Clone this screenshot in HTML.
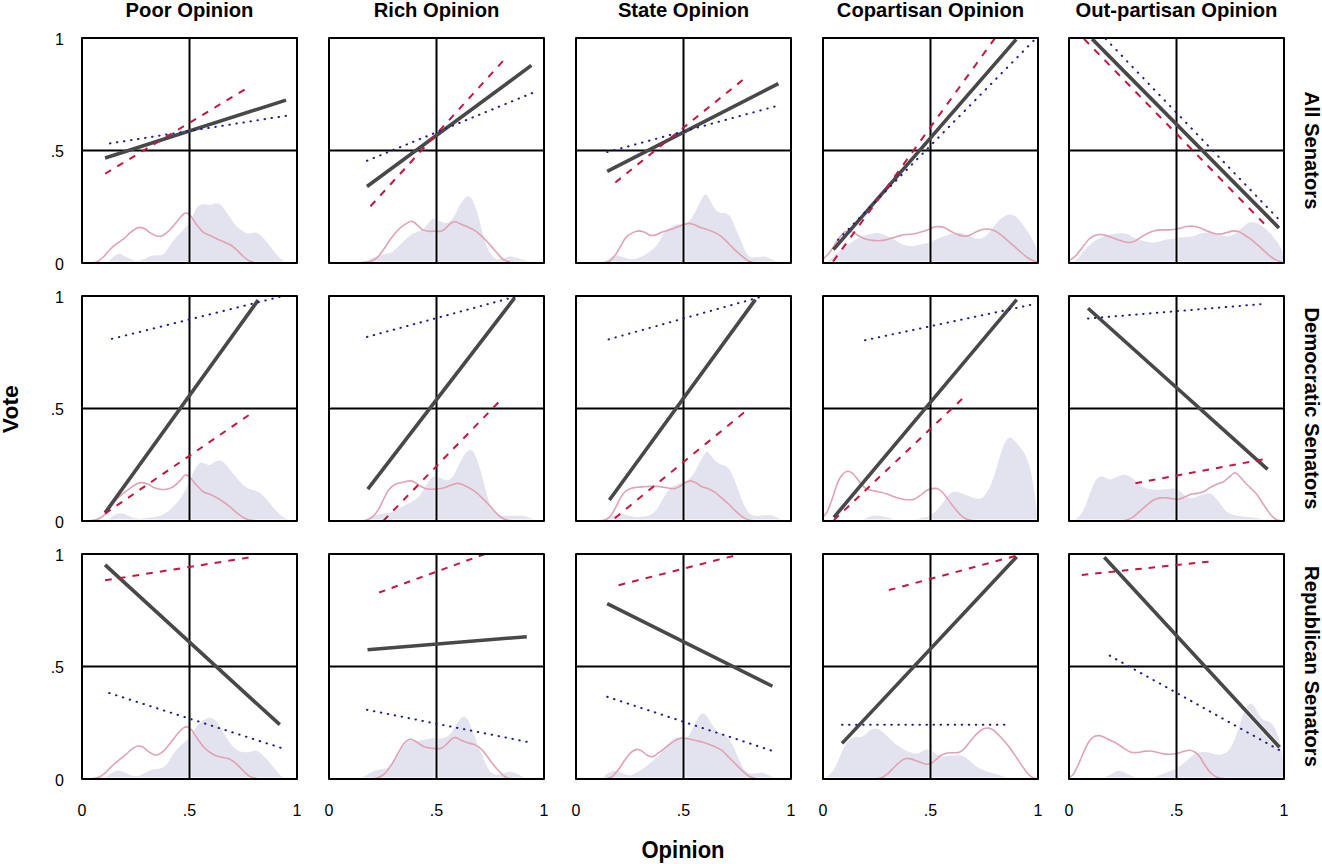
<!DOCTYPE html><html><head><meta charset="utf-8"><style>html,body{margin:0;padding:0;background:#fff;}svg{display:block;}text{font-family:"Liberation Sans",sans-serif;fill:#000;}.t{font-size:20.2px;font-weight:bold;}.a{font-size:22px;font-weight:bold;}.n{font-size:16px;}</style></head><body>
<svg width="1322" height="864" viewBox="0 0 1322 864">
<rect width="1322" height="864" fill="#fff"/>
<defs><clipPath id="c00"><rect x="82" y="38" width="215" height="225"/></clipPath><clipPath id="c01"><rect x="329" y="38" width="215" height="225"/></clipPath><clipPath id="c02"><rect x="576" y="38" width="215" height="225"/></clipPath><clipPath id="c03"><rect x="823" y="38" width="215" height="225"/></clipPath><clipPath id="c04"><rect x="1069" y="38" width="215" height="225"/></clipPath><clipPath id="c10"><rect x="82" y="296" width="215" height="225"/></clipPath><clipPath id="c11"><rect x="329" y="296" width="215" height="225"/></clipPath><clipPath id="c12"><rect x="576" y="296" width="215" height="225"/></clipPath><clipPath id="c13"><rect x="823" y="296" width="215" height="225"/></clipPath><clipPath id="c14"><rect x="1069" y="296" width="215" height="225"/></clipPath><clipPath id="c20"><rect x="82" y="554" width="215" height="225"/></clipPath><clipPath id="c21"><rect x="329" y="554" width="215" height="225"/></clipPath><clipPath id="c22"><rect x="576" y="554" width="215" height="225"/></clipPath><clipPath id="c23"><rect x="823" y="554" width="215" height="225"/></clipPath><clipPath id="c24"><rect x="1069" y="554" width="215" height="225"/></clipPath></defs>
<g clip-path="url(#c00)"><path d="M107.46 263C107.46 262.84 106.49 263.02 107.46 262.02C108.43 261.03 111.34 258.42 113.28 257.03C115.22 255.64 117.17 253.84 119.11 253.7C121.05 253.56 122.85 255.23 124.93 256.2C127.01 257.17 129.37 258.75 131.59 259.53C133.81 260.3 136.03 261 138.25 260.86C140.46 260.72 142.68 259.53 144.9 258.7C147.12 257.86 149.34 256.42 151.56 255.87C153.78 255.31 156.27 255.64 158.21 255.37C160.16 255.09 161.54 255.45 163.21 254.2C164.87 252.95 166.26 250.46 168.2 247.88C170.14 245.3 172.64 241.36 174.86 238.73C177.08 236.09 179.57 234.15 181.51 232.07C183.45 229.99 184.98 228.05 186.51 226.25C188.03 224.44 189.28 223.75 190.67 221.25C192.05 218.76 193.44 213.9 194.83 211.27C196.21 208.63 197.46 206.61 198.99 205.44C200.51 204.28 202.18 204.36 203.98 204.28C205.78 204.2 207.72 205.11 209.8 204.94C211.88 204.78 214.52 203.2 216.46 203.28C218.4 203.36 219.79 203.97 221.45 205.44C223.12 206.91 224.78 209.74 226.44 212.1C228.11 214.46 229.77 217.23 231.44 219.59C233.1 221.95 234.49 224.3 236.43 226.25C238.37 228.19 241.14 229.99 243.09 231.24C245.03 232.49 246.14 233.51 248.08 233.73C250.02 233.96 252.79 232.43 254.74 232.57C256.68 232.71 258.06 233.4 259.73 234.57C261.39 235.73 262.78 237.34 264.72 239.56C266.66 241.78 269.16 245.11 271.38 247.88C273.6 250.65 275.81 253.84 278.03 256.2C280.25 258.56 283.58 260.89 284.69 262.02C285.8 263.16 284.69 262.84 284.69 263Z" fill="#e3e3ef"/><line x1="105.09" y1="158.05" x2="286.02" y2="100.09" stroke="#fff" stroke-opacity="0.6" stroke-width="5.6"/><path d="M189.5 38V263M82 150.5H297" stroke="#fff" stroke-opacity="0.6" stroke-width="4" fill="none"/><path d="M82 263H297" stroke="#fff" stroke-opacity="0.6" stroke-width="4" fill="none"/><path d="M89.98 262.86C91.09 262.72 94.42 262.99 96.64 262.02C98.86 261.05 101.08 259.11 103.3 257.03C105.52 254.95 107.74 251.76 109.95 249.54C112.17 247.32 114.39 245.44 116.61 243.72C118.83 242 121.05 241.03 123.27 239.23C125.49 237.42 127.71 234.73 129.92 232.9C132.14 231.07 134.92 229.16 136.58 228.24C138.25 227.33 138.52 227.33 139.91 227.41C141.3 227.49 143.24 227.88 144.9 228.74C146.57 229.6 147.95 231.38 149.89 232.57C151.84 233.76 154.61 235.34 156.55 235.9C158.49 236.45 159.88 236.4 161.54 235.9C163.21 235.4 164.59 234.51 166.54 232.9C168.48 231.29 170.97 228.74 173.19 226.25C175.41 223.75 177.91 220.09 179.85 217.92C181.79 215.76 183.45 213.96 184.84 213.26C186.23 212.57 187.06 213.13 188.17 213.76C189.28 214.4 190.11 215.29 191.5 217.09C192.88 218.9 194.55 222.08 196.49 224.58C198.43 227.08 200.93 230.27 203.15 232.07C205.37 233.87 207.58 234.29 209.8 235.4C212.02 236.51 214.24 237.7 216.46 238.73C218.68 239.75 220.9 240.58 223.12 241.56C225.34 242.53 227.55 243.22 229.77 244.55C231.99 245.88 234.21 247.6 236.43 249.54C238.65 251.48 240.87 254.26 243.09 256.2C245.31 258.14 247.52 260.08 249.74 261.19C251.96 262.3 254.46 262.58 256.4 262.86C258.34 263.13 260.56 262.86 261.39 262.86" fill="none" stroke="#e0a3b3" stroke-width="1.6" stroke-linejoin="round"/><path d="M189.5 38V263M82 150.5H297" stroke="#000" stroke-width="2" fill="none"/><line x1="105.09" y1="158.05" x2="286.02" y2="100.09" stroke="#484848" stroke-width="3.6"/><line x1="105.09" y1="173.76" x2="244.58" y2="89.53" stroke="#c4163f" stroke-width="2.0" stroke-dasharray="6.88 7.31"/><line x1="109.96" y1="143.43" x2="286.02" y2="115.8" stroke="#1c1c8a" stroke-width="2.0" stroke-dasharray="0.5 6.61" stroke-linecap="round"/></g><rect x="82" y="38" width="215" height="225" fill="none" stroke="#000" stroke-width="2" stroke-linejoin="round"/>
<g clip-path="url(#c01)"><path d="M363.61 263C363.61 262.92 362.5 263.24 363.61 262.52C364.72 261.81 368.05 259.75 370.27 258.7C372.49 257.64 374.71 256.89 376.92 256.2C379.14 255.51 381.36 255.09 383.58 254.54C385.8 253.98 388.02 253.98 390.24 252.87C392.46 251.76 394.68 249.82 396.89 247.88C399.11 245.94 401.33 243.3 403.55 241.22C405.77 239.14 407.99 236.92 410.21 235.4C412.43 233.87 414.64 233.18 416.86 232.07C419.08 230.96 421.58 230.27 423.52 228.74C425.46 227.22 426.85 224.58 428.51 222.92C430.18 221.25 431.84 219.17 433.51 218.76C435.17 218.34 436.83 219.78 438.5 220.42C440.16 221.06 442.1 222.17 443.49 222.58C444.88 223 445.57 223.28 446.82 222.92C448.07 222.56 449.59 221.81 450.98 220.42C452.37 219.03 453.61 217.23 455.14 214.6C456.66 211.96 458.47 207.38 460.13 204.61C461.8 201.84 463.74 199.34 465.12 197.95C466.51 196.57 467.34 196.15 468.45 196.29C469.56 196.43 470.67 197.12 471.78 198.79C472.89 200.45 474 203.36 475.11 206.28C476.22 209.19 477.33 212.38 478.44 216.26C479.55 220.14 480.66 225.41 481.77 229.57C482.87 233.73 483.85 237.62 485.09 241.22C486.34 244.83 487.87 248.57 489.25 251.21C490.64 253.84 491.89 255.64 493.41 257.03C494.94 258.42 496.47 259.39 498.41 259.53C500.35 259.67 503.12 258.42 505.06 257.86C507.01 257.31 508.11 256.2 510.06 256.2C512 256.2 514.49 257.25 516.71 257.86C518.93 258.47 520.87 259.08 523.37 259.86C525.87 260.64 530.3 262 531.69 262.52C533.08 263.05 531.69 262.92 531.69 263Z" fill="#e3e3ef"/><line x1="366.98" y1="186.49" x2="531.39" y2="65.42" stroke="#fff" stroke-opacity="0.6" stroke-width="5.6"/><path d="M436.5 38V263M329 150.5H544" stroke="#fff" stroke-opacity="0.6" stroke-width="4" fill="none"/><path d="M329 263H544" stroke="#fff" stroke-opacity="0.6" stroke-width="4" fill="none"/><path d="M361.95 262.52C363.33 262.36 367.77 262.3 370.27 261.52C372.76 260.75 374.71 259.86 376.92 257.86C379.14 255.87 381.36 252.59 383.58 249.54C385.8 246.49 388.02 242.61 390.24 239.56C392.46 236.51 394.68 233.6 396.89 231.24C399.11 228.88 401.33 227.02 403.55 225.41C405.77 223.8 408.54 222.14 410.21 221.59C411.87 221.03 412.29 221.45 413.54 222.08C414.78 222.72 416.17 224.11 417.7 225.41C419.22 226.72 420.89 228.94 422.69 229.91C424.49 230.88 426.43 231.02 428.51 231.24C430.59 231.46 433.09 231.24 435.17 231.24C437.25 231.24 439.33 231.65 440.99 231.24C442.66 230.82 443.63 229.99 445.15 228.74C446.68 227.49 448.48 224.91 450.15 223.75C451.81 222.58 453.48 221.75 455.14 221.75C456.8 221.75 458.19 222.94 460.13 223.75C462.07 224.55 464.57 225.61 466.79 226.58C469.01 227.55 471.23 228.24 473.44 229.57C475.66 230.9 477.88 232.62 480.1 234.57C482.32 236.51 484.54 238.86 486.76 241.22C488.98 243.58 491.47 246.49 493.41 248.71C495.36 250.93 496.74 252.73 498.41 254.54C500.07 256.34 501.46 258.25 503.4 259.53C505.34 260.8 508.11 261.64 510.06 262.19C512 262.75 514.22 262.75 515.05 262.86" fill="none" stroke="#e0a3b3" stroke-width="1.6" stroke-linejoin="round"/><path d="M436.5 38V263M329 150.5H544" stroke="#000" stroke-width="2" fill="none"/><line x1="366.98" y1="186.49" x2="531.39" y2="65.42" stroke="#484848" stroke-width="3.6"/><line x1="370.5" y1="206.26" x2="502.95" y2="61.09" stroke="#c4163f" stroke-width="2.0" stroke-dasharray="7.07 7.5"/><line x1="366.98" y1="160.76" x2="532.2" y2="93.05" stroke="#1c1c8a" stroke-width="2.0" stroke-dasharray="0.5 6.62" stroke-linecap="round"/></g><rect x="329" y="38" width="215" height="225" fill="none" stroke="#000" stroke-width="2" stroke-linejoin="round"/>
<g clip-path="url(#c02)"><path d="M603.95 263C603.95 262.84 603.12 262.74 603.95 262.02C604.79 261.31 607.01 259.81 608.95 258.7C610.89 257.59 613.38 255.64 615.6 255.37C617.82 255.09 620.04 256.42 622.26 257.03C624.48 257.64 626.7 258.75 628.92 259.03C631.14 259.31 633.35 259.17 635.57 258.7C637.79 258.22 639.73 257.45 642.23 256.2C644.73 254.95 648.05 253.15 650.55 251.21C653.05 249.27 655.27 247.05 657.21 244.55C659.15 242.05 660.54 238.73 662.2 236.23C663.86 233.73 665.25 231.38 667.19 229.57C669.13 227.77 671.91 226.3 673.85 225.41C675.79 224.53 677.18 224.39 678.84 224.25C680.51 224.11 682.17 225.08 683.83 224.58C685.5 224.08 687.16 222.92 688.83 221.25C690.49 219.59 692.15 217.37 693.82 214.6C695.48 211.82 697.15 207.8 698.81 204.61C700.48 201.42 702.42 196.98 703.8 195.46C705.19 193.93 706.02 194.49 707.13 195.46C708.24 196.43 709.07 198.93 710.46 201.28C711.85 203.64 713.79 207.66 715.45 209.6C717.12 211.55 718.78 212.38 720.44 212.93C722.11 213.49 723.77 212.24 725.44 212.93C727.1 213.63 728.77 214.6 730.43 217.09C732.09 219.59 733.76 224.16 735.42 227.91C737.09 231.65 738.75 235.68 740.41 239.56C742.08 243.44 743.74 248.3 745.41 251.21C747.07 254.12 748.46 256.01 750.4 257.03C752.34 258.06 754.84 257.45 757.06 257.36C759.27 257.28 761.49 256.31 763.71 256.53C765.93 256.75 768.15 257.86 770.37 258.7C772.59 259.53 775.92 260.81 777.03 261.52C778.14 262.24 777.03 262.75 777.03 263Z" fill="#e3e3ef"/><line x1="607.21" y1="171.32" x2="778.39" y2="83.57" stroke="#fff" stroke-opacity="0.6" stroke-width="5.6"/><path d="M683.5 38V263M576 150.5H791" stroke="#fff" stroke-opacity="0.6" stroke-width="4" fill="none"/><path d="M576 263H791" stroke="#fff" stroke-opacity="0.6" stroke-width="4" fill="none"/><path d="M601.46 262.86C602.71 262.63 606.59 262.91 608.95 261.52C611.3 260.14 613.66 257.09 615.6 254.54C617.55 251.98 618.93 248.99 620.6 246.21C622.26 243.44 623.65 240.11 625.59 237.89C627.53 235.68 630.03 234.07 632.25 232.9C634.46 231.74 636.96 231.04 638.9 230.9C640.84 230.77 641.95 231.32 643.89 232.07C645.84 232.82 648.61 234.93 650.55 235.4C652.49 235.87 653.6 235.45 655.54 234.9C657.48 234.34 659.7 232.96 662.2 232.07C664.7 231.18 668.02 230.41 670.52 229.57C673.02 228.74 674.96 227.91 677.18 227.08C679.4 226.25 681.89 225.19 683.83 224.58C685.78 223.97 687.16 223.42 688.83 223.42C690.49 223.42 691.88 223.89 693.82 224.58C695.76 225.27 698.26 226.74 700.48 227.58C702.69 228.41 704.64 228.69 707.13 229.57C709.63 230.46 712.96 231.65 715.45 232.9C717.95 234.15 719.89 235.26 722.11 237.06C724.33 238.86 726.55 241.5 728.77 243.72C730.98 245.94 733.2 248.3 735.42 250.38C737.64 252.46 739.86 254.4 742.08 256.2C744.3 258 746.52 260.08 748.74 261.19C750.95 262.3 753.45 262.58 755.39 262.86C757.33 263.13 759.55 262.86 760.38 262.86" fill="none" stroke="#e0a3b3" stroke-width="1.6" stroke-linejoin="round"/><path d="M683.5 38V263M576 150.5H791" stroke="#000" stroke-width="2" fill="none"/><line x1="607.21" y1="171.32" x2="778.39" y2="83.57" stroke="#484848" stroke-width="3.6"/><line x1="615.34" y1="182.43" x2="742.64" y2="80.05" stroke="#c4163f" stroke-width="2.0" stroke-dasharray="6.9 7.32"/><line x1="607.21" y1="152.09" x2="774.6" y2="106.59" stroke="#1c1c8a" stroke-width="2.0" stroke-dasharray="0.5 6.71" stroke-linecap="round"/></g><rect x="576" y="38" width="215" height="225" fill="none" stroke="#000" stroke-width="2" stroke-linejoin="round"/>
<g clip-path="url(#c03)"><path d="M825.99 263C825.99 262.84 825.16 262.74 825.99 262.02C826.82 261.31 829.04 260.22 830.98 258.7C832.93 257.17 835.15 254.95 837.64 252.87C840.14 250.79 843.19 248.3 845.96 246.21C848.74 244.13 851.51 242 854.28 240.39C857.06 238.78 859.83 237.67 862.6 236.56C865.38 235.45 868.71 234.34 870.92 233.73C873.14 233.12 874.25 232.9 875.92 232.9C877.58 232.9 878.97 233.18 880.91 233.73C882.85 234.29 885.35 235.26 887.57 236.23C889.78 237.2 892 238.31 894.22 239.56C896.44 240.81 898.66 242.66 900.88 243.72C903.1 244.77 905.32 245.52 907.54 245.88C909.75 246.24 911.97 246.1 914.19 245.88C916.41 245.66 918.63 245.05 920.85 244.55C923.07 244.05 925.56 243.44 927.51 242.89C929.45 242.33 930.83 241.92 932.5 241.22C934.16 240.53 935.55 239.56 937.49 238.73C939.43 237.89 941.93 237.06 944.15 236.23C946.37 235.4 948.58 234.34 950.8 233.73C953.02 233.12 955.24 232.57 957.46 232.57C959.68 232.57 961.9 233.12 964.12 233.73C966.34 234.34 968.55 235.4 970.77 236.23C972.99 237.06 975.49 238.45 977.43 238.73C979.37 239 980.76 238.59 982.42 237.89C984.09 237.2 985.47 236.51 987.41 234.57C989.36 232.62 991.85 228.88 994.07 226.25C996.29 223.61 998.51 220.64 1000.73 218.76C1002.95 216.87 1005.44 215.57 1007.38 214.93C1009.33 214.29 1010.71 214.43 1012.38 214.93C1014.04 215.43 1015.43 216.04 1017.37 217.92C1019.31 219.81 1021.81 223.19 1024.03 226.25C1026.24 229.3 1028.74 232.9 1030.68 236.23C1032.62 239.56 1034.57 243.16 1035.67 246.21C1036.78 249.27 1037.06 251.9 1037.34 254.54C1037.62 257.17 1037.34 260.61 1037.34 262.02C1037.34 263.43 1037.34 262.84 1037.34 263Z" fill="#e3e3ef"/><line x1="833.36" y1="249.6" x2="1016.18" y2="39.42" stroke="#fff" stroke-opacity="0.6" stroke-width="5.6"/><path d="M930.5 38V263M823 150.5H1038" stroke="#fff" stroke-opacity="0.6" stroke-width="4" fill="none"/><path d="M823 263H1038" stroke="#fff" stroke-opacity="0.6" stroke-width="4" fill="none"/><path d="M823.5 258.7C824.47 257.73 827.52 255.09 829.32 252.87C831.12 250.65 832.65 247.88 834.31 245.38C835.98 242.89 837.64 240.11 839.31 237.89C840.97 235.68 842.63 233.18 844.3 232.07C845.96 230.96 847.63 231.1 849.29 231.24C850.95 231.38 852.62 232.07 854.28 232.9C855.95 233.73 857.33 235.18 859.28 236.23C861.22 237.28 863.71 238.53 865.93 239.23C868.15 239.92 870.37 240.14 872.59 240.39C874.81 240.64 877.03 240.81 879.25 240.72C881.46 240.64 883.68 240.36 885.9 239.89C888.12 239.42 890.34 238.56 892.56 237.89C894.78 237.23 897 236.45 899.21 235.9C901.43 235.34 903.38 234.93 905.87 234.57C908.37 234.21 911.7 234.15 914.19 233.73C916.69 233.32 918.63 232.71 920.85 232.07C923.07 231.43 925.29 230.74 927.51 229.91C929.72 229.07 932.22 227.63 934.16 227.08C936.1 226.52 937.49 226.49 939.15 226.58C940.82 226.66 942.21 226.8 944.15 227.58C946.09 228.35 948.58 230.07 950.8 231.24C953.02 232.4 955.24 233.73 957.46 234.57C959.68 235.4 962.17 236.09 964.12 236.23C966.06 236.37 967.17 236.09 969.11 235.4C971.05 234.7 973.55 233.04 975.77 232.07C977.98 231.1 980.48 230.07 982.42 229.57C984.36 229.07 985.47 228.94 987.41 229.07C989.36 229.21 991.85 229.49 994.07 230.41C996.29 231.32 998.51 232.9 1000.73 234.57C1002.95 236.23 1005.17 238.45 1007.38 240.39C1009.6 242.33 1011.82 244.27 1014.04 246.21C1016.26 248.16 1018.48 250.15 1020.7 252.04C1022.92 253.93 1025.14 256.01 1027.35 257.53C1029.57 259.06 1032.35 260.36 1034.01 261.19C1035.67 262.02 1036.78 262.3 1037.34 262.52" fill="none" stroke="#e0a3b3" stroke-width="1.6" stroke-linejoin="round"/><path d="M930.5 38V263M823 150.5H1038" stroke="#000" stroke-width="2" fill="none"/><line x1="833.36" y1="249.6" x2="1016.18" y2="39.42" stroke="#484848" stroke-width="3.6"/><line x1="833.08" y1="261.52" x2="995.06" y2="38.06" stroke="#c4163f" stroke-width="2.0" stroke-dasharray="7.24 7.69"/><line x1="837.96" y1="239.85" x2="1033.52" y2="40.77" stroke="#1c1c8a" stroke-width="2.0" stroke-dasharray="0.5 7.03" stroke-linecap="round"/></g><rect x="823" y="38" width="215" height="225" fill="none" stroke="#000" stroke-width="2" stroke-linejoin="round"/>
<g clip-path="url(#c04)"><path d="M1073.66 263C1073.66 262.84 1072.82 262.88 1073.66 262.02C1074.49 261.17 1076.98 259.67 1078.65 257.86C1080.31 256.06 1081.7 253.43 1083.64 251.21C1085.58 248.99 1088.08 246.49 1090.3 244.55C1092.52 242.61 1094.74 240.89 1096.95 239.56C1099.17 238.23 1101.39 237.39 1103.61 236.56C1105.83 235.73 1108.05 235.09 1110.27 234.57C1112.49 234.04 1114.71 233.62 1116.92 233.4C1119.14 233.18 1121.64 233.04 1123.58 233.23C1125.52 233.43 1126.91 233.84 1128.57 234.57C1130.24 235.29 1131.62 236.65 1133.57 237.56C1135.51 238.48 1138 239.36 1140.22 240.06C1142.44 240.75 1144.66 241.33 1146.88 241.72C1149.1 242.11 1151.32 242.47 1153.54 242.39C1155.75 242.3 1157.97 241.69 1160.19 241.22C1162.41 240.75 1164.63 240.03 1166.85 239.56C1169.07 239.09 1171.29 238.73 1173.51 238.39C1175.72 238.06 1177.94 237.78 1180.16 237.56C1182.38 237.34 1184.6 237.28 1186.82 237.06C1189.04 236.84 1191.26 236.78 1193.48 236.23C1195.69 235.68 1197.91 234.34 1200.13 233.73C1202.35 233.12 1204.57 232.62 1206.79 232.57C1209.01 232.51 1211.23 232.98 1213.44 233.4C1215.66 233.82 1217.88 234.59 1220.1 235.07C1222.32 235.54 1224.54 236.31 1226.76 236.23C1228.98 236.15 1231.2 235.68 1233.41 234.57C1235.63 233.46 1237.85 231.38 1240.07 229.57C1242.29 227.77 1244.79 225 1246.73 223.75C1248.67 222.5 1250.06 222.22 1251.72 222.08C1253.38 221.95 1254.77 222.08 1256.71 222.92C1258.65 223.75 1261.15 225.41 1263.37 227.08C1265.59 228.74 1267.81 230.54 1270.03 232.9C1272.24 235.26 1274.74 238.45 1276.68 241.22C1278.62 244 1280.57 247.05 1281.67 249.54C1282.78 252.04 1283.06 254.12 1283.34 256.2C1283.62 258.28 1283.34 260.89 1283.34 262.02C1283.34 263.16 1283.34 262.84 1283.34 263Z" fill="#e3e3ef"/><line x1="1092.09" y1="38.88" x2="1278.98" y2="227.93" stroke="#fff" stroke-opacity="0.6" stroke-width="5.6"/><path d="M1176.5 38V263M1069 150.5H1284" stroke="#fff" stroke-opacity="0.6" stroke-width="4" fill="none"/><path d="M1069 263H1284" stroke="#fff" stroke-opacity="0.6" stroke-width="4" fill="none"/><path d="M1069.5 260.36C1070.47 259.67 1073.24 258.28 1075.32 256.2C1077.4 254.12 1079.76 250.65 1081.98 247.88C1084.2 245.11 1086.69 241.56 1088.63 239.56C1090.58 237.56 1091.82 236.73 1093.63 235.9C1095.43 235.07 1097.51 234.65 1099.45 234.57C1101.39 234.48 1103.2 234.9 1105.28 235.4C1107.36 235.9 1109.71 236.81 1111.93 237.56C1114.15 238.31 1116.37 239.14 1118.59 239.89C1120.81 240.64 1123.3 241.64 1125.25 242.05C1127.19 242.47 1128.57 242.58 1130.24 242.39C1131.9 242.19 1133.57 241.69 1135.23 240.89C1136.89 240.09 1138.28 238.75 1140.22 237.56C1142.16 236.37 1144.66 234.84 1146.88 233.73C1149.1 232.62 1151.32 231.54 1153.54 230.9C1155.75 230.27 1157.97 230.07 1160.19 229.91C1162.41 229.74 1164.63 229.96 1166.85 229.91C1169.07 229.85 1171.29 229.85 1173.51 229.57C1175.72 229.3 1177.94 228.74 1180.16 228.24C1182.38 227.74 1184.6 226.91 1186.82 226.58C1189.04 226.25 1191.26 226.02 1193.48 226.25C1195.69 226.47 1197.91 227.13 1200.13 227.91C1202.35 228.69 1204.57 230.02 1206.79 230.9C1209.01 231.79 1211.23 232.71 1213.44 233.23C1215.66 233.76 1217.88 234.18 1220.1 234.07C1222.32 233.96 1224.54 233.1 1226.76 232.57C1228.98 232.04 1231.47 231.07 1233.41 230.9C1235.36 230.74 1236.74 231.02 1238.41 231.57C1240.07 232.13 1241.46 233.04 1243.4 234.23C1245.34 235.43 1247.84 237.06 1250.06 238.73C1252.27 240.39 1254.49 242.33 1256.71 244.22C1258.93 246.1 1261.15 248.05 1263.37 250.04C1265.59 252.04 1267.81 254.48 1270.03 256.2C1272.24 257.92 1274.74 259.39 1276.68 260.36C1278.62 261.33 1280.84 261.75 1281.67 262.02" fill="none" stroke="#e0a3b3" stroke-width="1.6" stroke-linejoin="round"/><path d="M1176.5 38V263M1069 150.5H1284" stroke="#000" stroke-width="2" fill="none"/><line x1="1092.09" y1="38.88" x2="1278.98" y2="227.93" stroke="#484848" stroke-width="3.6"/><line x1="1083.96" y1="38.88" x2="1264.08" y2="223.6" stroke="#c4163f" stroke-width="2.0" stroke-dasharray="7.16 7.6"/><line x1="1105.63" y1="38.88" x2="1277.62" y2="218.18" stroke="#1c1c8a" stroke-width="2.0" stroke-dasharray="0.5 7.25" stroke-linecap="round"/></g><rect x="1069" y="38" width="215" height="225" fill="none" stroke="#000" stroke-width="2" stroke-linejoin="round"/>
<g clip-path="url(#c10)"><path d="M108.29 521C108.29 520.84 107.46 520.88 108.29 520.02C109.12 519.17 111.34 516.97 113.28 515.86C115.22 514.75 117.72 513.51 119.94 513.37C122.16 513.23 124.38 514.28 126.6 515.03C128.81 515.78 131.03 517.22 133.25 517.86C135.47 518.5 137.69 518.86 139.91 518.86C142.13 518.86 144.35 518.14 146.57 517.86C148.78 517.58 151 517.53 153.22 517.2C155.44 516.86 157.66 516.64 159.88 515.86C162.1 515.09 164.32 514.06 166.54 512.54C168.75 511.01 170.97 508.93 173.19 506.71C175.41 504.49 177.91 501.86 179.85 499.22C181.79 496.59 183.18 493.95 184.84 490.9C186.51 487.85 188.17 484.52 189.83 480.92C191.5 477.31 193.16 472.26 194.83 469.27C196.49 466.27 198.15 463.91 199.82 462.94C201.48 461.97 203.15 463.08 204.81 463.44C206.48 463.8 208.14 465.38 209.8 465.11C211.47 464.83 213.13 462.53 214.8 461.78C216.46 461.03 218.12 460.34 219.79 460.61C221.45 460.89 223.12 462 224.78 463.44C226.44 464.89 227.83 466.91 229.77 469.27C231.71 471.63 234.21 474.95 236.43 477.59C238.65 480.22 240.87 483.14 243.09 485.08C245.31 487.02 247.52 488.27 249.74 489.24C251.96 490.21 254.46 490.07 256.4 490.9C258.34 491.73 259.45 492.57 261.39 494.23C263.33 495.89 265.83 498.39 268.05 500.89C270.27 503.38 272.49 506.71 274.7 509.21C276.92 511.7 279.14 514.06 281.36 515.86C283.58 517.67 286.91 519.17 288.02 520.02C289.13 520.88 288.02 520.84 288.02 521Z" fill="#e3e3ef"/><line x1="105.09" y1="512.75" x2="258.12" y2="300.13" stroke="#fff" stroke-opacity="0.6" stroke-width="5.6"/><path d="M189.5 296V521M82 408.5H297" stroke="#fff" stroke-opacity="0.6" stroke-width="4" fill="none"/><path d="M82 521H297" stroke="#fff" stroke-opacity="0.6" stroke-width="4" fill="none"/><path d="M89.98 520.86C91.09 520.63 94.42 520.36 96.64 519.52C98.86 518.69 101.08 517.86 103.3 515.86C105.52 513.87 107.74 510.32 109.95 507.54C112.17 504.77 114.39 501.58 116.61 499.22C118.83 496.86 121.05 495.2 123.27 493.4C125.49 491.6 127.71 489.99 129.92 488.41C132.14 486.82 134.5 484.88 136.58 483.91C138.66 482.94 140.46 482.53 142.41 482.58C144.35 482.64 146.43 483.47 148.23 484.25C150.03 485.02 151.28 486.41 153.22 487.24C155.16 488.07 157.66 488.9 159.88 489.24C162.1 489.57 164.32 489.65 166.54 489.24C168.75 488.82 170.97 488.13 173.19 486.74C175.41 485.35 177.91 482.86 179.85 480.92C181.79 478.98 183.45 475.92 184.84 475.09C186.23 474.26 187.06 475.23 188.17 475.92C189.28 476.62 190.11 477.73 191.5 479.25C192.88 480.78 194.55 483 196.49 485.08C198.43 487.16 200.93 490.21 203.15 491.73C205.37 493.26 207.58 493.26 209.8 494.23C212.02 495.2 214.24 496.31 216.46 497.56C218.68 498.81 220.9 500.19 223.12 501.72C225.34 503.24 227.55 504.91 229.77 506.71C231.99 508.51 234.21 510.73 236.43 512.54C238.65 514.34 240.87 516.28 243.09 517.53C245.31 518.78 247.25 519.47 249.74 520.02C252.24 520.58 256.68 520.72 258.06 520.86" fill="none" stroke="#e0a3b3" stroke-width="1.6" stroke-linejoin="round"/><path d="M189.5 296V521M82 408.5H297" stroke="#000" stroke-width="2" fill="none"/><line x1="105.09" y1="512.75" x2="258.12" y2="300.13" stroke="#484848" stroke-width="3.6"/><line x1="105.09" y1="513.56" x2="248.64" y2="415.24" stroke="#c4163f" stroke-width="2.0" stroke-dasharray="6.76 7.18"/><line x1="111.86" y1="338.86" x2="279.79" y2="296.88" stroke="#1c1c8a" stroke-width="2.0" stroke-dasharray="0.5 6.69" stroke-linecap="round"/></g><rect x="82" y="296" width="215" height="225" fill="none" stroke="#000" stroke-width="2" stroke-linejoin="round"/>
<g clip-path="url(#c11)"><path d="M363.61 521C363.61 520.84 362.5 520.66 363.61 520.02C364.72 519.39 368.05 518.03 370.27 517.2C372.49 516.36 374.71 515.59 376.92 515.03C379.14 514.48 381.36 514.28 383.58 513.87C385.8 513.45 388.02 513.31 390.24 512.54C392.46 511.76 394.68 510.32 396.89 509.21C399.11 508.1 401.33 506.99 403.55 505.88C405.77 504.77 407.99 503.8 410.21 502.55C412.43 501.3 414.92 500.05 416.86 498.39C418.81 496.73 420.19 494.92 421.86 492.57C423.52 490.21 425.18 486.74 426.85 484.25C428.51 481.75 430.45 478.98 431.84 477.59C433.23 476.2 433.78 475.92 435.17 475.92C436.56 475.92 438.5 476.9 440.16 477.59C441.83 478.28 443.49 479.81 445.15 480.08C446.82 480.36 448.48 480.5 450.15 479.25C451.81 478 453.48 475.37 455.14 472.6C456.8 469.82 458.47 465.8 460.13 462.61C461.8 459.42 463.46 455.54 465.12 453.46C466.79 451.38 468.73 450.41 470.12 450.13C471.5 449.85 472.34 450.27 473.44 451.79C474.55 453.32 475.66 456.37 476.77 459.28C477.88 462.2 478.99 465.66 480.1 469.27C481.21 472.87 482.32 476.76 483.43 480.92C484.54 485.08 485.65 490.35 486.76 494.23C487.87 498.11 488.7 501.3 490.09 504.21C491.47 507.13 493.41 509.85 495.08 511.7C496.74 513.56 498.13 514.67 500.07 515.36C502.01 516.06 504.51 515.78 506.73 515.86C508.95 515.95 510.89 515.86 513.38 515.86C515.88 515.86 519.21 515.59 521.7 515.86C524.2 516.14 526.14 516.83 528.36 517.53C530.58 518.22 533.91 519.45 535.02 520.02C536.13 520.6 535.02 520.84 535.02 521Z" fill="#e3e3ef"/><line x1="367.8" y1="489.18" x2="514.6" y2="297.96" stroke="#fff" stroke-opacity="0.6" stroke-width="5.6"/><path d="M436.5 296V521M329 408.5H544" stroke="#fff" stroke-opacity="0.6" stroke-width="4" fill="none"/><path d="M329 521H544" stroke="#fff" stroke-opacity="0.6" stroke-width="4" fill="none"/><path d="M360.28 520.86C361.39 520.72 364.72 520.86 366.94 520.02C369.16 519.19 371.65 517.67 373.6 515.86C375.54 514.06 376.92 511.98 378.59 509.21C380.25 506.43 381.92 502.41 383.58 499.22C385.25 496.03 386.63 492.57 388.57 490.07C390.51 487.57 393.01 485.49 395.23 484.25C397.45 483 399.39 483.14 401.89 482.58C404.38 482.03 407.99 480.92 410.21 480.92C412.43 480.92 413.54 481.75 415.2 482.58C416.86 483.41 418.53 484.94 420.19 485.91C421.86 486.88 423.52 487.85 425.18 488.41C426.85 488.96 428.24 489.15 430.18 489.24C432.12 489.32 434.61 489.13 436.83 488.9C439.05 488.68 441.27 488.46 443.49 487.91C445.71 487.35 447.93 486.33 450.15 485.58C452.37 484.83 454.86 483.63 456.8 483.41C458.74 483.19 459.85 483.55 461.8 484.25C463.74 484.94 466.23 486.33 468.45 487.57C470.67 488.82 472.89 490.07 475.11 491.73C477.33 493.4 479.55 495.48 481.77 497.56C483.98 499.64 486.2 501.86 488.42 504.21C490.64 506.57 493.14 509.62 495.08 511.7C497.02 513.78 498.41 515.39 500.07 516.7C501.74 518 503.12 518.83 505.06 519.52C507.01 520.22 510.61 520.63 511.72 520.86" fill="none" stroke="#e0a3b3" stroke-width="1.6" stroke-linejoin="round"/><path d="M436.5 296V521M329 408.5H544" stroke="#000" stroke-width="2" fill="none"/><line x1="367.8" y1="489.18" x2="514.6" y2="297.96" stroke="#484848" stroke-width="3.6"/><line x1="383.23" y1="520.87" x2="498.35" y2="402.51" stroke="#c4163f" stroke-width="2.0" stroke-dasharray="6.97 7.4"/><line x1="366.98" y1="336.96" x2="514.6" y2="296.88" stroke="#1c1c8a" stroke-width="2.0" stroke-dasharray="0.5 6.43" stroke-linecap="round"/></g><rect x="329" y="296" width="215" height="225" fill="none" stroke="#000" stroke-width="2" stroke-linejoin="round"/>
<g clip-path="url(#c12)"><path d="M602.29 521C602.29 520.84 601.18 520.66 602.29 520.02C603.4 519.39 606.73 518.03 608.95 517.2C611.17 516.36 613.38 515.53 615.6 515.03C617.82 514.53 620.04 514.06 622.26 514.2C624.48 514.34 626.7 515.36 628.92 515.86C631.14 516.36 633.35 517.03 635.57 517.2C637.79 517.36 640.01 517.14 642.23 516.86C644.45 516.58 646.95 516.25 648.89 515.53C650.83 514.81 652.21 514.14 653.88 512.54C655.54 510.93 657.21 508.38 658.87 505.88C660.54 503.38 662.2 500.19 663.86 497.56C665.53 494.92 667.19 492.01 668.86 490.07C670.52 488.13 672.18 486.96 673.85 485.91C675.51 484.86 677.18 484.3 678.84 483.75C680.51 483.19 682.17 483.39 683.83 482.58C685.5 481.78 687.16 480.45 688.83 478.92C690.49 477.39 692.15 475.87 693.82 473.43C695.48 470.99 697.15 467.33 698.81 464.28C700.48 461.22 702.42 457.2 703.8 455.12C705.19 453.04 706.02 451.79 707.13 451.79C708.24 451.79 709.07 453.6 710.46 455.12C711.85 456.65 713.79 459.42 715.45 460.95C717.12 462.47 718.78 463.44 720.44 464.28C722.11 465.11 723.77 464.83 725.44 465.94C727.1 467.05 728.77 468.16 730.43 470.93C732.09 473.71 733.76 478.42 735.42 482.58C737.09 486.74 738.75 491.73 740.41 495.89C742.08 500.05 743.74 504.49 745.41 507.54C747.07 510.59 748.46 512.81 750.4 514.2C752.34 515.59 754.84 515.67 757.06 515.86C759.27 516.06 761.49 515.5 763.71 515.36C765.93 515.23 768.15 514.67 770.37 515.03C772.59 515.39 775.08 516.7 777.03 517.53C778.97 518.36 781.19 519.45 782.02 520.02C782.85 520.6 782.02 520.84 782.02 521Z" fill="#e3e3ef"/><line x1="609.38" y1="500.02" x2="755.37" y2="299.58" stroke="#fff" stroke-opacity="0.6" stroke-width="5.6"/><path d="M683.5 296V521M576 408.5H791" stroke="#fff" stroke-opacity="0.6" stroke-width="4" fill="none"/><path d="M576 521H791" stroke="#fff" stroke-opacity="0.6" stroke-width="4" fill="none"/><path d="M598.96 520.86C600.07 520.66 603.68 520.52 605.62 519.69C607.56 518.86 608.95 517.89 610.61 515.86C612.28 513.84 613.94 510.59 615.6 507.54C617.27 504.49 618.93 500.28 620.6 497.56C622.26 494.84 623.92 492.76 625.59 491.23C627.25 489.71 628.64 489.07 630.58 488.41C632.52 487.74 635.02 487.52 637.24 487.24C639.46 486.96 641.68 486.88 643.89 486.74C646.11 486.6 648.33 486.46 650.55 486.41C652.77 486.35 654.99 486.27 657.21 486.41C659.43 486.55 661.64 486.91 663.86 487.24C666.08 487.57 668.58 488.21 670.52 488.41C672.46 488.6 673.85 488.82 675.51 488.41C677.18 487.99 678.84 486.88 680.51 485.91C682.17 484.94 683.83 483.41 685.5 482.58C687.16 481.75 688.83 480.92 690.49 480.92C692.15 480.92 693.54 481.61 695.48 482.58C697.42 483.55 699.92 485.69 702.14 486.74C704.36 487.8 706.58 487.93 708.8 488.9C711.01 489.88 713.23 490.98 715.45 492.57C717.67 494.15 719.89 496.45 722.11 498.39C724.33 500.33 726.55 502.13 728.77 504.21C730.98 506.3 733.2 508.79 735.42 510.87C737.64 512.95 739.86 515.17 742.08 516.7C744.3 518.22 746.52 519.33 748.74 520.02C750.95 520.72 754.28 520.72 755.39 520.86" fill="none" stroke="#e0a3b3" stroke-width="1.6" stroke-linejoin="round"/><path d="M683.5 296V521M576 408.5H791" stroke="#000" stroke-width="2" fill="none"/><line x1="609.38" y1="500.02" x2="755.37" y2="299.58" stroke="#484848" stroke-width="3.6"/><line x1="614.8" y1="518.16" x2="743.99" y2="412.53" stroke="#c4163f" stroke-width="2.0" stroke-dasharray="7.05 7.48"/><line x1="608.57" y1="339.4" x2="758.89" y2="297.42" stroke="#1c1c8a" stroke-width="2.0" stroke-dasharray="0.5 6.57" stroke-linecap="round"/></g><rect x="576" y="296" width="215" height="225" fill="none" stroke="#000" stroke-width="2" stroke-linejoin="round"/>
<g clip-path="url(#c13)"><path d="M862.6 521C862.6 520.84 861.49 520.74 862.6 520.02C863.71 519.31 867.04 517.44 869.26 516.7C871.48 515.95 873.7 515.61 875.92 515.53C878.14 515.45 880.35 515.81 882.57 516.2C884.79 516.58 887.01 517.22 889.23 517.86C891.45 518.5 891.73 519.66 895.89 520.02C900.05 520.38 910.03 520.36 914.19 520.02C918.35 519.69 918.63 518.58 920.85 518.03C923.07 517.47 925.29 517.61 927.51 516.7C929.72 515.78 932.22 514.06 934.16 512.54C936.1 511.01 937.49 509.48 939.15 507.54C940.82 505.6 942.48 503.11 944.15 500.89C945.81 498.67 947.48 495.76 949.14 494.23C950.8 492.7 952.47 492.01 954.13 491.73C955.8 491.46 957.18 492.01 959.12 492.57C961.07 493.12 963.56 494.23 965.78 495.06C968 495.89 970.22 496.95 972.44 497.56C974.66 498.17 977.15 499 979.09 498.72C981.04 498.45 982.42 497.61 984.09 495.89C985.75 494.17 987.41 491.73 989.08 488.41C990.74 485.08 992.41 480.78 994.07 475.92C995.74 471.07 997.4 464.55 999.06 459.28C1000.73 454.01 1002.39 447.91 1004.06 444.31C1005.72 440.7 1007.38 438.34 1009.05 437.65C1010.71 436.96 1012.38 438.76 1014.04 440.15C1015.7 441.53 1017.37 443.89 1019.03 445.97C1020.7 448.05 1022.36 449.58 1024.03 452.63C1025.69 455.68 1027.63 459.84 1029.02 464.28C1030.4 468.71 1031.38 474.26 1032.35 479.25C1033.32 484.25 1034.15 489.24 1034.84 494.23C1035.54 499.22 1036.15 504.91 1036.51 509.21C1036.87 513.51 1036.92 518.06 1037.01 520.02C1037.09 521.99 1037.01 520.84 1037.01 521Z" fill="#e3e3ef"/><line x1="833.9" y1="517.35" x2="1016.72" y2="299.58" stroke="#fff" stroke-opacity="0.6" stroke-width="5.6"/><path d="M930.5 296V521M823 408.5H1038" stroke="#fff" stroke-opacity="0.6" stroke-width="4" fill="none"/><path d="M823 521H1038" stroke="#fff" stroke-opacity="0.6" stroke-width="4" fill="none"/><path d="M823.5 516.7C824.19 515.73 826.13 514.06 827.66 510.87C829.18 507.68 830.98 502.27 832.65 497.56C834.31 492.84 835.98 486.46 837.64 482.58C839.31 478.7 840.97 476.15 842.63 474.26C844.3 472.37 845.96 471.4 847.63 471.26C849.29 471.13 850.95 472.1 852.62 473.43C854.28 474.76 855.95 477.17 857.61 479.25C859.28 481.33 860.94 484.25 862.6 485.91C864.27 487.57 865.65 488.41 867.6 489.24C869.54 490.07 872.03 490.4 874.25 490.9C876.47 491.4 878.69 491.68 880.91 492.23C883.13 492.79 885.35 493.48 887.57 494.23C889.78 494.98 892 495.98 894.22 496.73C896.44 497.48 898.66 498.22 900.88 498.72C903.1 499.22 905.32 499.64 907.54 499.72C909.75 499.8 911.97 500 914.19 499.22C916.41 498.45 918.63 496.59 920.85 495.06C923.07 493.54 925.29 491.18 927.51 490.07C929.72 488.96 932.22 488.49 934.16 488.41C936.1 488.32 937.49 488.6 939.15 489.57C940.82 490.54 942.48 492.34 944.15 494.23C945.81 496.12 947.48 498.67 949.14 500.89C950.8 503.11 952.47 505.46 954.13 507.54C955.8 509.62 957.46 511.62 959.12 513.37C960.79 515.11 962.17 516.86 964.12 518.03C966.06 519.19 968.55 519.89 970.77 520.36C972.99 520.83 976.32 520.77 977.43 520.86" fill="none" stroke="#e0a3b3" stroke-width="1.6" stroke-linejoin="round"/><path d="M930.5 296V521M823 408.5H1038" stroke="#000" stroke-width="2" fill="none"/><line x1="833.9" y1="517.35" x2="1016.72" y2="299.58" stroke="#484848" stroke-width="3.6"/><line x1="833.9" y1="520.06" x2="962.01" y2="398.99" stroke="#c4163f" stroke-width="2.0" stroke-dasharray="6.85 7.27"/><line x1="865.05" y1="340.21" x2="1030.27" y2="305" stroke="#1c1c8a" stroke-width="2.0" stroke-dasharray="0.5 6.52" stroke-linecap="round"/></g><rect x="823" y="296" width="215" height="225" fill="none" stroke="#000" stroke-width="2" stroke-linejoin="round"/>
<g clip-path="url(#c14)"><path d="M1075.32 521C1075.32 520.84 1074.49 521.02 1075.32 520.02C1076.15 519.03 1078.65 517.39 1080.31 515.03C1081.98 512.67 1083.64 509.62 1085.31 505.88C1086.97 502.13 1088.63 496.73 1090.3 492.57C1091.96 488.41 1093.63 483.55 1095.29 480.92C1096.95 478.28 1098.62 477.31 1100.28 476.76C1101.95 476.2 1103.61 477.12 1105.28 477.59C1106.94 478.06 1108.6 479.59 1110.27 479.59C1111.93 479.59 1113.6 478.28 1115.26 477.59C1116.92 476.9 1118.59 475.9 1120.25 475.43C1121.92 474.95 1123.58 474.54 1125.25 474.76C1126.91 474.98 1128.57 475.73 1130.24 476.76C1131.9 477.78 1133.57 479.45 1135.23 480.92C1136.89 482.39 1138.28 484.33 1140.22 485.58C1142.16 486.82 1144.66 487.71 1146.88 488.41C1149.1 489.1 1151.32 489.51 1153.54 489.74C1155.75 489.96 1157.97 489.88 1160.19 489.74C1162.41 489.6 1164.63 489.1 1166.85 488.9C1169.07 488.71 1171.56 488.38 1173.51 488.57C1175.45 488.77 1176.83 489.13 1178.5 490.07C1180.16 491.01 1181.83 492.98 1183.49 494.23C1185.15 495.48 1186.82 496.95 1188.48 497.56C1190.15 498.17 1191.53 498.22 1193.48 497.89C1195.42 497.56 1197.91 496.31 1200.13 495.56C1202.35 494.81 1204.85 493.62 1206.79 493.4C1208.73 493.18 1210.12 493.26 1211.78 494.23C1213.44 495.2 1215.11 497.28 1216.77 499.22C1218.44 501.16 1220.1 503.8 1221.77 505.88C1223.43 507.96 1224.82 510.18 1226.76 511.7C1228.7 513.23 1230.92 514.26 1233.41 515.03C1235.91 515.81 1238.96 516 1241.74 516.36C1244.51 516.72 1247.28 516.86 1250.06 517.2C1252.83 517.53 1255.88 517.89 1258.38 518.36C1260.87 518.83 1263.92 519.58 1265.03 520.02C1266.14 520.46 1265.03 520.84 1265.03 521Z" fill="#e3e3ef"/><line x1="1088.02" y1="308.25" x2="1267.6" y2="469.41" stroke="#fff" stroke-opacity="0.6" stroke-width="5.6"/><path d="M1176.5 296V521M1069 408.5H1284" stroke="#fff" stroke-opacity="0.6" stroke-width="4" fill="none"/><path d="M1069 521H1284" stroke="#fff" stroke-opacity="0.6" stroke-width="4" fill="none"/><path d="M1120.25 520.86C1121.36 520.72 1124.69 520.72 1126.91 520.02C1129.13 519.33 1131.35 518.22 1133.57 516.7C1135.78 515.17 1138 512.81 1140.22 510.87C1142.44 508.93 1144.66 506.85 1146.88 505.05C1149.1 503.24 1151.32 501.25 1153.54 500.05C1155.75 498.86 1157.97 498.25 1160.19 497.89C1162.41 497.53 1164.63 497.72 1166.85 497.89C1169.07 498.06 1171.56 498.67 1173.51 498.89C1175.45 499.11 1176.83 499.44 1178.5 499.22C1180.16 499 1181.55 498.33 1183.49 497.56C1185.43 496.78 1187.93 495.26 1190.15 494.56C1192.37 493.87 1194.58 493.87 1196.8 493.4C1199.02 492.93 1201.24 492.7 1203.46 491.73C1205.68 490.76 1207.9 488.82 1210.12 487.57C1212.34 486.33 1214.55 485.22 1216.77 484.25C1218.99 483.27 1221.49 482.86 1223.43 481.75C1225.37 480.64 1226.76 478.98 1228.42 477.59C1230.09 476.2 1232.17 474.18 1233.41 473.43C1234.66 472.68 1234.8 472.54 1235.91 473.1C1237.02 473.65 1238.55 475.18 1240.07 476.76C1241.6 478.34 1243.4 480.78 1245.06 482.58C1246.73 484.38 1248.11 485.63 1250.06 487.57C1252 489.51 1254.77 491.87 1256.71 494.23C1258.65 496.59 1260.04 499.22 1261.7 501.72C1263.37 504.21 1265.03 506.85 1266.7 509.21C1268.36 511.56 1270.03 514.12 1271.69 515.86C1273.35 517.61 1275.02 518.86 1276.68 519.69C1278.35 520.52 1280.84 520.66 1281.67 520.86" fill="none" stroke="#e0a3b3" stroke-width="1.6" stroke-linejoin="round"/><path d="M1176.5 296V521M1069 408.5H1284" stroke="#000" stroke-width="2" fill="none"/><line x1="1088.02" y1="308.25" x2="1267.6" y2="469.41" stroke="#484848" stroke-width="3.6"/><line x1="1135.42" y1="483.22" x2="1262.72" y2="459.39" stroke="#c4163f" stroke-width="2.0" stroke-dasharray="6.62 7.03"/><line x1="1088.02" y1="318.54" x2="1260.56" y2="304.19" stroke="#1c1c8a" stroke-width="2.0" stroke-dasharray="0.5 6.41" stroke-linecap="round"/></g><rect x="1069" y="296" width="215" height="225" fill="none" stroke="#000" stroke-width="2" stroke-linejoin="round"/>
<g clip-path="url(#c20)"><path d="M104.96 779C104.96 778.84 103.85 779.02 104.96 778.02C106.07 777.03 109.4 774.28 111.62 773.03C113.84 771.78 116.06 770.62 118.28 770.54C120.49 770.45 122.71 771.7 124.93 772.53C127.15 773.36 129.37 774.95 131.59 775.53C133.81 776.11 136.03 776.44 138.25 776.03C140.46 775.61 142.68 774.09 144.9 773.03C147.12 771.98 149.34 770.4 151.56 769.7C153.78 769.01 156.27 769.29 158.21 768.87C160.16 768.46 161.54 768.32 163.21 767.21C164.87 766.1 166.54 764.43 168.2 762.21C169.86 760 171.25 756.53 173.19 753.89C175.13 751.26 177.63 748.62 179.85 746.41C182.07 744.19 184.56 742.66 186.51 740.58C188.45 738.5 189.83 736.28 191.5 733.92C193.16 731.57 194.83 728.52 196.49 726.44C198.15 724.36 199.82 722.77 201.48 721.44C203.15 720.11 204.81 719 206.48 718.45C208.14 717.89 209.8 717.62 211.47 718.11C213.13 718.61 214.8 719.64 216.46 721.44C218.12 723.25 219.79 726.3 221.45 728.93C223.12 731.57 224.78 734.62 226.44 737.25C228.11 739.89 229.5 742.52 231.44 744.74C233.38 746.96 235.87 749.32 238.09 750.57C240.31 751.81 242.53 752.09 244.75 752.23C246.97 752.37 249.47 751.68 251.41 751.4C253.35 751.12 254.74 750.15 256.4 750.57C258.06 750.98 259.45 752.23 261.39 753.89C263.33 755.56 265.83 758.05 268.05 760.55C270.27 763.05 272.49 766.24 274.7 768.87C276.92 771.51 279.7 774.83 281.36 776.36C283.03 777.89 284.14 777.58 284.69 778.02C285.24 778.46 284.69 778.84 284.69 779Z" fill="#e3e3ef"/><line x1="105.09" y1="564.9" x2="279.79" y2="724.7" stroke="#fff" stroke-opacity="0.6" stroke-width="5.6"/><path d="M189.5 554V779M82 666.5H297" stroke="#fff" stroke-opacity="0.6" stroke-width="4" fill="none"/><path d="M82 779H297" stroke="#fff" stroke-opacity="0.6" stroke-width="4" fill="none"/><path d="M91.65 778.86C92.76 778.63 96.09 778.5 98.31 777.52C100.52 776.55 102.74 774.89 104.96 773.03C107.18 771.17 109.4 768.46 111.62 766.38C113.84 764.3 116.06 762.41 118.28 760.55C120.49 758.69 122.71 757.08 124.93 755.23C127.15 753.37 129.51 750.93 131.59 749.4C133.67 747.88 135.47 746.43 137.41 746.07C139.35 745.71 141.43 746.35 143.24 747.24C145.04 748.13 146.43 750.15 148.23 751.4C150.03 752.65 152.25 754.25 154.05 754.73C155.86 755.2 157.24 755.06 159.05 754.23C160.85 753.39 162.79 751.87 164.87 749.73C166.95 747.6 169.31 744.19 171.53 741.41C173.75 738.64 176.24 735.31 178.18 733.09C180.13 730.87 181.65 729.13 183.18 728.1C184.7 727.07 185.95 726.66 187.34 726.93C188.72 727.21 189.97 728.04 191.5 729.76C193.02 731.48 194.55 734.48 196.49 737.25C198.43 740.03 200.93 743.91 203.15 746.41C205.37 748.9 207.58 750.65 209.8 752.23C212.02 753.81 214.24 755 216.46 755.89C218.68 756.78 220.9 757 223.12 757.56C225.34 758.11 227.55 758.17 229.77 759.22C231.99 760.27 234.21 761.99 236.43 763.88C238.65 765.77 240.87 768.46 243.09 770.54C245.31 772.62 247.52 775.03 249.74 776.36C251.96 777.69 254.46 778.11 256.4 778.52C258.34 778.94 260.56 778.8 261.39 778.86" fill="none" stroke="#e0a3b3" stroke-width="1.6" stroke-linejoin="round"/><path d="M189.5 554V779M82 666.5H297" stroke="#000" stroke-width="2" fill="none"/><line x1="105.09" y1="564.9" x2="279.79" y2="724.7" stroke="#484848" stroke-width="3.6"/><line x1="105.09" y1="580.34" x2="248.64" y2="557.58" stroke="#c4163f" stroke-width="2.0" stroke-dasharray="6.72 7.14"/><line x1="109.15" y1="693.01" x2="280.6" y2="747.72" stroke="#1c1c8a" stroke-width="2.0" stroke-dasharray="0.5 6.68" stroke-linecap="round"/></g><rect x="82" y="554" width="215" height="225" fill="none" stroke="#000" stroke-width="2" stroke-linejoin="round"/>
<g clip-path="url(#c21)"><path d="M361.95 779C361.95 778.84 360.84 778.88 361.95 778.02C363.06 777.17 366.38 775.11 368.6 773.86C370.82 772.62 373.04 771.31 375.26 770.54C377.48 769.76 379.7 769.76 381.92 769.2C384.14 768.65 386.63 768.37 388.57 767.21C390.51 766.04 391.9 764.43 393.57 762.21C395.23 760 396.89 756.67 398.56 753.89C400.22 751.12 401.89 747.65 403.55 745.57C405.21 743.49 406.88 742.25 408.54 741.41C410.21 740.58 411.59 740.72 413.54 740.58C415.48 740.44 417.97 740.8 420.19 740.58C422.41 740.36 424.63 739.67 426.85 739.25C429.07 738.83 431.29 738.2 433.51 738.08C435.72 737.97 438.22 738.67 440.16 738.58C442.1 738.5 443.49 738.36 445.15 737.59C446.82 736.81 448.48 735.78 450.15 733.92C451.81 732.07 453.48 728.93 455.14 726.44C456.8 723.94 458.61 720.56 460.13 718.95C461.66 717.34 462.91 716.51 464.29 716.78C465.68 717.06 467.2 718.59 468.45 720.61C469.7 722.64 470.67 726.16 471.78 728.93C472.89 731.71 474 734.2 475.11 737.25C476.22 740.3 477.33 744.46 478.44 747.24C479.55 750.01 480.66 751.4 481.77 753.89C482.87 756.39 483.98 759.72 485.09 762.21C486.2 764.71 487.31 767.07 488.42 768.87C489.53 770.67 490.36 772.06 491.75 773.03C493.14 774 494.8 774.61 496.74 774.7C498.68 774.78 501.18 774 503.4 773.53C505.62 773.06 508.11 771.95 510.06 771.87C512 771.78 513.38 772.48 515.05 773.03C516.71 773.59 518.38 774.36 520.04 775.2C521.7 776.03 524.2 777.39 525.03 778.02C525.87 778.66 525.03 778.84 525.03 779Z" fill="#e3e3ef"/><line x1="367.52" y1="649.67" x2="526.79" y2="636.67" stroke="#fff" stroke-opacity="0.6" stroke-width="5.6"/><path d="M436.5 554V779M329 666.5H544" stroke="#fff" stroke-opacity="0.6" stroke-width="4" fill="none"/><path d="M329 779H544" stroke="#fff" stroke-opacity="0.6" stroke-width="4" fill="none"/><path d="M370.27 778.86C371.38 778.72 374.71 778.72 376.92 778.02C379.14 777.33 381.64 776.22 383.58 774.7C385.52 773.17 386.91 771.09 388.57 768.87C390.24 766.65 391.9 764.16 393.57 761.38C395.23 758.61 396.89 755.14 398.56 752.23C400.22 749.32 401.89 745.99 403.55 743.91C405.21 741.83 407.16 740.5 408.54 739.75C409.93 739 410.48 739 411.87 739.42C413.26 739.83 414.92 741.08 416.86 742.25C418.81 743.41 421.3 745.43 423.52 746.41C425.74 747.38 427.96 747.65 430.18 748.07C432.4 748.49 434.89 748.9 436.83 748.9C438.78 748.9 440.16 748.9 441.83 748.07C443.49 747.24 445.15 745.43 446.82 743.91C448.48 742.38 450.29 739.97 451.81 738.92C453.34 737.86 454.58 737.45 455.97 737.59C457.36 737.72 458.33 738.92 460.13 739.75C461.93 740.58 464.57 741.83 466.79 742.58C469.01 743.33 471.5 743.52 473.44 744.24C475.39 744.96 476.77 745.71 478.44 746.9C480.1 748.1 481.77 749.54 483.43 751.4C485.09 753.26 486.76 755.84 488.42 758.05C490.09 760.27 491.75 762.63 493.41 764.71C495.08 766.79 496.74 768.73 498.41 770.54C500.07 772.34 501.74 774.25 503.4 775.53C505.06 776.8 506.73 777.64 508.39 778.19C510.06 778.75 512.55 778.75 513.38 778.86" fill="none" stroke="#e0a3b3" stroke-width="1.6" stroke-linejoin="round"/><path d="M436.5 554V779M329 666.5H544" stroke="#000" stroke-width="2" fill="none"/><line x1="367.52" y1="649.67" x2="526.79" y2="636.67" stroke="#484848" stroke-width="3.6"/><line x1="379.17" y1="592.52" x2="484.8" y2="554.06" stroke="#c4163f" stroke-width="2.0" stroke-dasharray="6.43 6.82"/><line x1="366.98" y1="709.8" x2="526.79" y2="741.77" stroke="#1c1c8a" stroke-width="2.0" stroke-dasharray="0.5 6.56" stroke-linecap="round"/></g><rect x="329" y="554" width="215" height="225" fill="none" stroke="#000" stroke-width="2" stroke-linejoin="round"/>
<g clip-path="url(#c22)"><path d="M602.29 779C602.29 778.84 601.46 778.88 602.29 778.02C603.12 777.17 605.34 775.06 607.28 773.86C609.22 772.67 611.72 771.15 613.94 770.87C616.16 770.59 618.38 771.51 620.6 772.2C622.81 772.89 625.31 774.61 627.25 775.03C629.19 775.44 630.3 775.31 632.25 774.7C634.19 774.09 636.68 772.67 638.9 771.37C641.12 770.06 643.34 768.54 645.56 766.87C647.78 765.21 650 763.27 652.21 761.38C654.43 759.5 656.65 757.92 658.87 755.56C661.09 753.2 663.31 749.87 665.53 747.24C667.75 744.6 670.24 741.36 672.18 739.75C674.13 738.14 675.24 737.86 677.18 737.59C679.12 737.31 681.89 738.42 683.83 738.08C685.78 737.75 687.16 737.67 688.83 735.59C690.49 733.51 692.15 728.79 693.82 725.6C695.48 722.41 697.29 718.45 698.81 716.45C700.34 714.45 701.58 713.62 702.97 713.62C704.36 713.62 705.61 714.59 707.13 716.45C708.66 718.31 710.46 722.28 712.12 724.77C713.79 727.27 715.17 729.76 717.12 731.43C719.06 733.09 721.83 733.51 723.77 734.76C725.71 736 727.1 736.84 728.77 738.92C730.43 741 732.09 743.91 733.76 747.24C735.42 750.57 737.09 755.28 738.75 758.89C740.41 762.49 742.08 766.51 743.74 768.87C745.41 771.23 746.79 772.26 748.74 773.03C750.68 773.81 753.17 773.61 755.39 773.53C757.61 773.45 759.83 772.26 762.05 772.53C764.27 772.81 766.76 774.28 768.7 775.2C770.65 776.11 772.87 777.39 773.7 778.02C774.53 778.66 773.7 778.84 773.7 779Z" fill="#e3e3ef"/><line x1="607.21" y1="603.63" x2="772.43" y2="686.24" stroke="#fff" stroke-opacity="0.6" stroke-width="5.6"/><path d="M683.5 554V779M576 666.5H791" stroke="#fff" stroke-opacity="0.6" stroke-width="4" fill="none"/><path d="M576 779H791" stroke="#fff" stroke-opacity="0.6" stroke-width="4" fill="none"/><path d="M603.95 778.86C605.06 778.63 608.67 778.5 610.61 777.52C612.55 776.55 613.94 774.89 615.6 773.03C617.27 771.17 618.93 768.73 620.6 766.38C622.26 764.02 623.79 761.24 625.59 758.89C627.39 756.53 629.47 753.81 631.41 752.23C633.35 750.65 635.43 749.54 637.24 749.4C639.04 749.26 640.57 750.43 642.23 751.4C643.89 752.37 645.56 754.34 647.22 755.23C648.89 756.11 650.55 756.95 652.21 756.72C653.88 756.5 655.27 755.2 657.21 753.89C659.15 752.59 661.64 750.62 663.86 748.9C666.08 747.18 668.3 745.16 670.52 743.58C672.74 742 675.24 740.33 677.18 739.42C679.12 738.5 680.23 738.17 682.17 738.08C684.11 738 686.61 738.5 688.83 738.92C691.04 739.33 693.26 740.08 695.48 740.58C697.7 741.08 699.92 741.3 702.14 741.91C704.36 742.52 706.58 743.41 708.8 744.24C711.01 745.07 713.23 745.85 715.45 746.9C717.67 747.96 719.89 748.85 722.11 750.57C724.33 752.29 726.55 755 728.77 757.22C730.98 759.44 733.2 761.66 735.42 763.88C737.64 766.1 739.86 768.51 742.08 770.54C744.3 772.56 746.52 774.7 748.74 776.03C750.95 777.36 753.45 778.05 755.39 778.52C757.33 778.99 759.55 778.8 760.38 778.86" fill="none" stroke="#e0a3b3" stroke-width="1.6" stroke-linejoin="round"/><path d="M683.5 554V779M576 666.5H791" stroke="#000" stroke-width="2" fill="none"/><line x1="607.21" y1="603.63" x2="772.43" y2="686.24" stroke="#484848" stroke-width="3.6"/><line x1="618.59" y1="585.21" x2="733.16" y2="555.96" stroke="#c4163f" stroke-width="2.0" stroke-dasharray="6.76 7.18"/><line x1="607.21" y1="696.8" x2="771.08" y2="750.43" stroke="#1c1c8a" stroke-width="2.0" stroke-dasharray="0.5 6.66" stroke-linecap="round"/></g><rect x="576" y="554" width="215" height="225" fill="none" stroke="#000" stroke-width="2" stroke-linejoin="round"/>
<g clip-path="url(#c23)"><path d="M825.99 779C825.99 778.84 825.16 779.02 825.99 778.02C826.82 777.03 829.32 775.11 830.98 773.03C832.65 770.95 834.31 768.73 835.98 765.54C837.64 762.35 839.31 757.5 840.97 753.89C842.63 750.29 844.3 746.46 845.96 743.91C847.63 741.36 849.29 739.75 850.95 738.58C852.62 737.42 854.28 737.2 855.95 736.92C857.61 736.64 859.28 737.42 860.94 736.92C862.6 736.42 864.27 735.12 865.93 733.92C867.6 732.73 869.26 730.65 870.92 729.76C872.59 728.88 874.25 728.46 875.92 728.6C877.58 728.74 879.25 729.57 880.91 730.6C882.57 731.62 884.24 733.23 885.9 734.76C887.57 736.28 888.95 737.95 890.89 739.75C892.84 741.55 895.33 743.91 897.55 745.57C899.77 747.24 901.99 748.57 904.21 749.73C906.43 750.9 908.64 751.92 910.86 752.56C913.08 753.2 915.58 753.84 917.52 753.56C919.46 753.28 920.85 751.54 922.51 750.9C924.18 750.26 925.84 749.65 927.51 749.73C929.17 749.82 930.83 750.57 932.5 751.4C934.16 752.23 935.55 753.89 937.49 754.73C939.43 755.56 941.93 756.25 944.15 756.39C946.37 756.53 948.58 755.75 950.8 755.56C953.02 755.36 955.52 755.14 957.46 755.23C959.4 755.31 960.79 755.45 962.45 756.06C964.12 756.67 965.78 757.72 967.44 758.89C969.11 760.05 970.77 761.66 972.44 763.05C974.1 764.43 975.49 765.96 977.43 767.21C979.37 768.46 981.59 769.56 984.09 770.54C986.58 771.51 989.63 772.2 992.41 773.03C995.18 773.86 998.23 774.7 1000.73 775.53C1003.22 776.36 1006.27 777.45 1007.38 778.02C1008.49 778.6 1007.38 778.84 1007.38 779Z" fill="#e3e3ef"/><line x1="842.02" y1="743.39" x2="1016.72" y2="556.77" stroke="#fff" stroke-opacity="0.6" stroke-width="5.6"/><path d="M930.5 554V779M823 666.5H1038" stroke="#fff" stroke-opacity="0.6" stroke-width="4" fill="none"/><path d="M823 779H1038" stroke="#fff" stroke-opacity="0.6" stroke-width="4" fill="none"/><path d="M874.25 778.86C875.36 778.72 878.69 778.86 880.91 778.02C883.13 777.19 885.35 775.67 887.57 773.86C889.78 772.06 892 769.34 894.22 767.21C896.44 765.07 898.94 762.49 900.88 761.05C902.82 759.61 904.21 758.91 905.87 758.55C907.54 758.19 909.2 758.55 910.86 758.89C912.53 759.22 914.19 759.94 915.86 760.55C917.52 761.16 919.18 761.94 920.85 762.55C922.51 763.16 924.18 764.05 925.84 764.21C927.51 764.38 929.17 764.3 930.83 763.55C932.5 762.8 934.16 761.05 935.83 759.72C937.49 758.39 938.88 756.67 940.82 755.56C942.76 754.45 945.26 753.53 947.48 753.06C949.69 752.59 952.19 752.87 954.13 752.73C956.07 752.59 957.46 752.87 959.12 752.23C960.79 751.59 962.17 750.84 964.12 748.9C966.06 746.96 968.55 743.22 970.77 740.58C972.99 737.95 975.21 735.09 977.43 733.09C979.65 731.1 982.14 729.43 984.09 728.6C986.03 727.77 987.41 727.77 989.08 728.1C990.74 728.43 992.13 729.07 994.07 730.6C996.01 732.12 998.51 734.9 1000.73 737.25C1002.95 739.61 1005.17 741.97 1007.38 744.74C1009.6 747.51 1011.82 750.7 1014.04 753.89C1016.26 757.08 1018.48 760.69 1020.7 763.88C1022.92 767.07 1025.41 770.76 1027.35 773.03C1029.3 775.31 1030.68 776.55 1032.35 777.52C1034.01 778.5 1036.51 778.63 1037.34 778.86" fill="none" stroke="#e0a3b3" stroke-width="1.6" stroke-linejoin="round"/><path d="M930.5 554V779M823 666.5H1038" stroke="#000" stroke-width="2" fill="none"/><line x1="842.02" y1="743.39" x2="1016.72" y2="556.77" stroke="#484848" stroke-width="3.6"/><line x1="888.88" y1="590.09" x2="1015.37" y2="555.96" stroke="#c4163f" stroke-width="2.0" stroke-dasharray="6.7 7.11"/><line x1="842.02" y1="724.7" x2="1004.54" y2="724.7" stroke="#1c1c8a" stroke-width="2.0" stroke-dasharray="0.5 6.54" stroke-linecap="round"/></g><rect x="823" y="554" width="215" height="225" fill="none" stroke="#000" stroke-width="2" stroke-linejoin="round"/>
<g clip-path="url(#c24)"><path d="M1103.61 779C1103.61 778.84 1102.5 778.74 1103.61 778.02C1104.72 777.31 1108.05 775.81 1110.27 774.7C1112.49 773.59 1114.98 771.92 1116.92 771.37C1118.87 770.81 1120.25 770.95 1121.92 771.37C1123.58 771.78 1124.97 772.95 1126.91 773.86C1128.85 774.78 1131.62 776.17 1133.57 776.86C1135.51 777.55 1135.51 777.83 1138.56 778.02C1141.61 778.22 1148.54 778.44 1151.87 778.02C1155.2 777.61 1156.03 776.5 1158.53 775.53C1161.02 774.56 1164.08 773.25 1166.85 772.2C1169.62 771.15 1172.67 770.45 1175.17 769.2C1177.67 767.96 1179.61 766.43 1181.83 764.71C1184.04 762.99 1186.26 760.69 1188.48 758.89C1190.7 757.08 1192.92 755.06 1195.14 753.89C1197.36 752.73 1199.58 752.12 1201.8 751.9C1204.01 751.68 1206.51 752.23 1208.45 752.56C1210.39 752.9 1211.78 753.53 1213.44 753.89C1215.11 754.25 1216.77 754.73 1218.44 754.73C1220.1 754.73 1221.77 754.59 1223.43 753.89C1225.09 753.2 1226.76 752.51 1228.42 750.57C1230.09 748.62 1231.75 745.85 1233.41 742.25C1235.08 738.64 1236.74 733.65 1238.41 728.93C1240.07 724.22 1241.74 717.98 1243.4 713.95C1245.06 709.93 1247.01 706.47 1248.39 704.8C1249.78 703.14 1250.61 703.55 1251.72 703.97C1252.83 704.39 1253.94 705.63 1255.05 707.3C1256.16 708.96 1256.99 711.87 1258.38 713.95C1259.76 716.03 1261.7 718.53 1263.37 719.78C1265.03 721.03 1266.7 720.47 1268.36 721.44C1270.03 722.41 1271.69 722.97 1273.35 725.6C1275.02 728.24 1276.96 733.09 1278.35 737.25C1279.73 741.41 1280.9 746.13 1281.67 750.57C1282.45 755 1282.78 759.3 1283.01 763.88C1283.23 768.46 1283.01 775.5 1283.01 778.02C1283.01 780.54 1283.01 778.84 1283.01 779Z" fill="#e3e3ef"/><line x1="1104.27" y1="557.31" x2="1279.52" y2="747.18" stroke="#fff" stroke-opacity="0.6" stroke-width="5.6"/><path d="M1176.5 554V779M1069 666.5H1284" stroke="#fff" stroke-opacity="0.6" stroke-width="4" fill="none"/><path d="M1069 779H1284" stroke="#fff" stroke-opacity="0.6" stroke-width="4" fill="none"/><path d="M1069.5 777.19C1070.19 776.64 1072.13 776.08 1073.66 773.86C1075.18 771.64 1076.98 767.48 1078.65 763.88C1080.31 760.27 1081.98 755.84 1083.64 752.23C1085.31 748.62 1086.97 744.8 1088.63 742.25C1090.3 739.69 1091.96 738.03 1093.63 736.92C1095.29 735.81 1096.95 735.59 1098.62 735.59C1100.28 735.59 1101.67 736.14 1103.61 736.92C1105.55 737.7 1108.05 739.14 1110.27 740.25C1112.49 741.36 1114.71 742.27 1116.92 743.58C1119.14 744.88 1121.36 746.68 1123.58 748.07C1125.8 749.46 1128.02 751.15 1130.24 751.9C1132.46 752.65 1134.68 752.65 1136.89 752.56C1139.11 752.48 1141.33 751.65 1143.55 751.4C1145.77 751.15 1147.99 750.93 1150.21 751.07C1152.43 751.2 1154.64 751.76 1156.86 752.23C1159.08 752.7 1161.3 753.56 1163.52 753.89C1165.74 754.23 1167.96 754.28 1170.18 754.23C1172.4 754.17 1174.61 754.03 1176.83 753.56C1179.05 753.09 1181.27 751.95 1183.49 751.4C1185.71 750.84 1188.21 750.09 1190.15 750.23C1192.09 750.37 1193.48 751.07 1195.14 752.23C1196.8 753.39 1198.47 755 1200.13 757.22C1201.8 759.44 1203.46 763.05 1205.12 765.54C1206.79 768.04 1208.17 770.26 1210.12 772.2C1212.06 774.14 1214.28 776.08 1216.77 777.19C1219.27 778.3 1223.71 778.58 1225.09 778.86" fill="none" stroke="#e0a3b3" stroke-width="1.6" stroke-linejoin="round"/><path d="M1176.5 554V779M1069 666.5H1284" stroke="#000" stroke-width="2" fill="none"/><line x1="1104.27" y1="557.31" x2="1279.52" y2="747.18" stroke="#484848" stroke-width="3.6"/><line x1="1081.79" y1="574.92" x2="1208.55" y2="561.65" stroke="#c4163f" stroke-width="2.0" stroke-dasharray="6.52 6.92"/><line x1="1109.69" y1="655.63" x2="1278.98" y2="749.89" stroke="#1c1c8a" stroke-width="2.0" stroke-dasharray="0.5 6.66" stroke-linecap="round"/></g><rect x="1069" y="554" width="215" height="225" fill="none" stroke="#000" stroke-width="2" stroke-linejoin="round"/>
<text class="t" transform="translate(189.5 16.8) scale(1 1.04)" text-anchor="middle">Poor Opinion</text>
<text class="t" transform="translate(436.5 16.8) scale(1 1.04)" text-anchor="middle">Rich Opinion</text>
<text class="t" transform="translate(683.5 16.8) scale(1 1.04)" text-anchor="middle">State Opinion</text>
<text class="t" transform="translate(930.5 16.8) scale(1 1.04)" text-anchor="middle">Copartisan Opinion</text>
<text class="t" transform="translate(1176.5 16.8) scale(1 1.04)" text-anchor="middle">Out-partisan Opinion</text>
<text class="t" transform="translate(1304.6 150.5) rotate(90)" text-anchor="middle" style="font-size:20.2px">All Senators</text>
<text class="t" transform="translate(1304.6 408.5) rotate(90)" text-anchor="middle" style="font-size:20.2px">Democratic Senators</text>
<text class="t" transform="translate(1304.6 666.5) rotate(90)" text-anchor="middle" style="font-size:20.2px">Republican Senators</text>
<text class="a" transform="translate(18.2 409.2) rotate(-90) scale(1.04 1)" text-anchor="middle" style="font-size:22px">Vote</text>
<text class="a" transform="translate(683 857.8) scale(1 1.07)" text-anchor="middle">Opinion</text>
<text class="n" x="64" y="269.6" text-anchor="end">0</text>
<text class="n" x="64" y="157.1" text-anchor="end">.5</text>
<text class="n" x="64" y="44.6" text-anchor="end">1</text>
<text class="n" x="64" y="527.6" text-anchor="end">0</text>
<text class="n" x="64" y="415.1" text-anchor="end">.5</text>
<text class="n" x="64" y="302.6" text-anchor="end">1</text>
<text class="n" x="64" y="785.6" text-anchor="end">0</text>
<text class="n" x="64" y="673.1" text-anchor="end">.5</text>
<text class="n" x="64" y="560.6" text-anchor="end">1</text>
<text class="n" x="82" y="815.8" text-anchor="middle">0</text>
<text class="n" x="189.5" y="815.8" text-anchor="middle">.5</text>
<text class="n" x="297" y="815.8" text-anchor="middle">1</text>
<text class="n" x="329" y="815.8" text-anchor="middle">0</text>
<text class="n" x="436.5" y="815.8" text-anchor="middle">.5</text>
<text class="n" x="544" y="815.8" text-anchor="middle">1</text>
<text class="n" x="576" y="815.8" text-anchor="middle">0</text>
<text class="n" x="683.5" y="815.8" text-anchor="middle">.5</text>
<text class="n" x="791" y="815.8" text-anchor="middle">1</text>
<text class="n" x="823" y="815.8" text-anchor="middle">0</text>
<text class="n" x="930.5" y="815.8" text-anchor="middle">.5</text>
<text class="n" x="1038" y="815.8" text-anchor="middle">1</text>
<text class="n" x="1069" y="815.8" text-anchor="middle">0</text>
<text class="n" x="1176.5" y="815.8" text-anchor="middle">.5</text>
<text class="n" x="1284" y="815.8" text-anchor="middle">1</text>
</svg></body></html>
